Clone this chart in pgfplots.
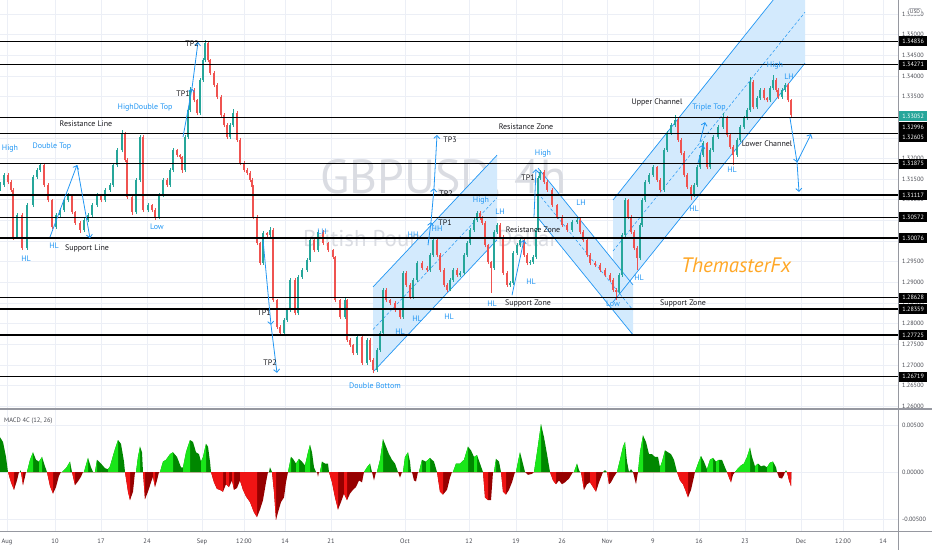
\documentclass[border=0pt]{standalone}
\usepackage{fontspec}
\setmainfont{PT Sans}
\usepackage{pgfplots}
\usepackage{pgfplotstable}
\pgfplotsset{compat=1.18}
\usetikzlibrary{arrows.meta}

\definecolor{tvup}{RGB}{38,166,154}
\definecolor{tvdn}{RGB}{239,83,80}
\definecolor{tvblue}{RGB}{33,150,243}
\definecolor{chfill}{RGB}{211,234,253}
\definecolor{gridc}{RGB}{236,239,246}
\definecolor{axc}{RGB}{150,152,160}
\definecolor{axtxt}{RGB}{70,72,80}
\definecolor{txtc}{RGB}{25,25,30}
\definecolor{wm}{RGB}{218,220,226}
\definecolor{fxor}{RGB}{255,167,38}
\definecolor{glime}{RGB}{25,230,25}
\definecolor{gdark}{RGB}{0,135,0}
\definecolor{rbright}{RGB}{240,20,20}
\definecolor{rdark}{RGB}{150,0,0}

\pgfplotstableread{
x o h l c
0 1.3128 1.3142 1.3122 1.3136
4 1.3136 1.3166 1.3131 1.3160
8 1.3160 1.3165 1.3138 1.3143
11 1.3143 1.3148 1.3119 1.3124
13 1.3124 1.3128 1.3003 1.3010
17 1.3010 1.3068 1.3005 1.3063
22 1.3063 1.3067 1.2978 1.2983
27 1.2983 1.3092 1.2979 1.3087
33 1.3087 1.3160 1.3082 1.3155
37 1.3155 1.3177 1.3150 1.3172
40 1.3172 1.3189 1.3167 1.3184
44 1.3184 1.3188 1.3131 1.3136
48 1.3136 1.3140 1.3094 1.3099
52 1.3099 1.3103 1.3029 1.3034
56 1.3034 1.3068 1.3030 1.3063
60 1.3063 1.3080 1.3058 1.3075
64 1.3075 1.3104 1.3071 1.3099
68 1.3099 1.3116 1.3094 1.3111
72 1.3111 1.3115 1.3065 1.3070
75 1.3070 1.3074 1.3039 1.3044
80 1.3044 1.3048 1.3020 1.3027
84 1.3027 1.3056 1.3023 1.3051
88 1.3051 1.3068 1.3046 1.3063
92 1.3063 1.3092 1.3058 1.3087
97 1.3087 1.3116 1.3082 1.3111
101 1.3111 1.3115 1.3094 1.3099
105 1.3099 1.3129 1.3095 1.3124
110 1.3124 1.3141 1.3119 1.3136
113 1.3136 1.3189 1.3131 1.3184
117 1.3184 1.3225 1.3179 1.3220
122 1.3220 1.3268 1.3215 1.3261
125 1.3261 1.3265 1.3191 1.3196
127 1.3196 1.3200 1.3102 1.3107
132 1.3107 1.3111 1.3063 1.3070
136 1.3070 1.3153 1.3066 1.3148
140 1.3148 1.3258 1.3143 1.3252
143 1.3252 1.3256 1.3070 1.3075
148 1.3075 1.3092 1.3070 1.3087
152 1.3087 1.3091 1.3070 1.3075
155 1.3075 1.3079 1.3052 1.3058
159 1.3058 1.3116 1.3054 1.3111
163 1.3111 1.3153 1.3106 1.3148
167 1.3148 1.3152 1.3131 1.3136
170 1.3136 1.3177 1.3132 1.3172
173 1.3172 1.3226 1.3167 1.3220
177 1.3220 1.3224 1.3203 1.3208
180 1.3208 1.3212 1.3198 1.3203
182 1.3203 1.3207 1.3166 1.3172
185 1.3172 1.3257 1.3168 1.3252
188 1.3252 1.3322 1.3248 1.3317
190 1.3317 1.3372 1.3312 1.3366
194 1.3366 1.3370 1.3336 1.3341
197 1.3341 1.3345 1.3305 1.3310
200 1.3310 1.3395 1.3306 1.3390
203 1.3390 1.3443 1.3386 1.3438
205 1.3438 1.3486 1.3434 1.3479
208 1.3479 1.3483 1.3433 1.3438
210 1.3438 1.3442 1.3402 1.3407
214 1.3407 1.3411 1.3373 1.3378
217 1.3378 1.3382 1.3344 1.3349
221 1.3349 1.3353 1.3300 1.3305
224 1.3305 1.3309 1.3276 1.3281
227 1.3281 1.3285 1.3247 1.3252
230 1.3252 1.3286 1.3248 1.3281
233 1.3281 1.3320 1.3277 1.3310
237 1.3310 1.3314 1.3240 1.3245
240 1.3245 1.3249 1.3184 1.3189
244 1.3189 1.3193 1.3167 1.3172
247 1.3172 1.3176 1.3160 1.3165
250 1.3165 1.3169 1.3143 1.3148
252 1.3148 1.3152 1.3126 1.3131
253 1.3131 1.3135 1.3053 1.3058
257 1.3058 1.3062 1.2990 1.2995
260 1.2995 1.2999 1.2942 1.2947
263 1.2947 1.3024 1.2943 1.3019
267 1.3019 1.3023 1.3010 1.3015
270 1.3015 1.3034 1.3011 1.3027
273 1.3027 1.3031 1.2852 1.2857
277 1.2857 1.2861 1.2787 1.2792
280 1.2792 1.2796 1.2772 1.2777
284 1.2777 1.2814 1.2773 1.2809
287 1.2809 1.2838 1.2805 1.2833
290 1.2833 1.2911 1.2829 1.2906
295 1.2906 1.2910 1.2821 1.2826
298 1.2826 1.2918 1.2822 1.2913
302 1.2913 1.2935 1.2909 1.2930
307 1.2930 1.2959 1.2926 1.2954
310 1.2954 1.3008 1.2950 1.3003
314 1.3003 1.3007 1.2973 1.2978
318 1.2978 1.3027 1.2974 1.3022
323 1.3022 1.3026 1.2990 1.2995
328 1.2995 1.2999 1.2973 1.2978
333 1.2978 1.2982 1.2956 1.2961
335 1.2961 1.2965 1.2852 1.2857
340 1.2857 1.2861 1.2811 1.2816
345 1.2816 1.2862 1.2812 1.2857
347 1.2857 1.2861 1.2756 1.2761
350 1.2761 1.2765 1.2743 1.2748
353 1.2748 1.2752 1.2724 1.2729
357 1.2729 1.2773 1.2725 1.2768
362 1.2768 1.2772 1.2700 1.2705
367 1.2705 1.2766 1.2701 1.2761
370 1.2761 1.2765 1.2707 1.2712
373 1.2712 1.2716 1.2680 1.2688
377 1.2688 1.2741 1.2684 1.2736
380 1.2736 1.2782 1.2732 1.2777
383 1.2777 1.2887 1.2773 1.2882
386 1.2882 1.2886 1.2852 1.2857
390 1.2857 1.2861 1.2845 1.2850
395 1.2850 1.2854 1.2828 1.2833
400 1.2833 1.2837 1.2811 1.2816
403 1.2816 1.2928 1.2812 1.2923
406 1.2923 1.2927 1.2889 1.2894
410 1.2894 1.2898 1.2860 1.2865
413 1.2865 1.2911 1.2861 1.2906
417 1.2906 1.2952 1.2902 1.2947
422 1.2947 1.2951 1.2930 1.2935
427 1.2935 1.2939 1.2925 1.2930
430 1.2930 1.2971 1.2926 1.2966
433 1.2966 1.3008 1.2962 1.3003
437 1.3003 1.3007 1.2961 1.2966
440 1.2966 1.2970 1.2925 1.2930
444 1.2930 1.2934 1.2889 1.2894
447 1.2894 1.2898 1.2877 1.2882
450 1.2882 1.2911 1.2878 1.2906
453 1.2906 1.2935 1.2902 1.2930
457 1.2930 1.2934 1.2913 1.2918
460 1.2918 1.2928 1.2914 1.2923
464 1.2923 1.2971 1.2919 1.2966
467 1.2966 1.3000 1.2962 1.2995
470 1.2995 1.3032 1.2991 1.3027
474 1.3027 1.3056 1.3023 1.3051
477 1.3051 1.3073 1.3047 1.3068
480 1.3068 1.3072 1.3051 1.3056
482 1.3056 1.3060 1.3039 1.3044
485 1.3044 1.3048 1.2985 1.2990
488 1.2990 1.2994 1.2944 1.2949
491 1.2949 1.2953 1.2874 1.2935
494 1.2935 1.3027 1.2931 1.3022
497 1.3022 1.3044 1.3018 1.3039
500 1.3039 1.3043 1.3005 1.3010
503 1.3010 1.3014 1.2918 1.2923
507 1.2923 1.2927 1.2889 1.2894
510 1.2894 1.2903 1.2890 1.2898
513 1.2898 1.2976 1.2894 1.2971
517 1.2971 1.2995 1.2967 1.2990
520 1.2990 1.3008 1.2986 1.3003
524 1.3003 1.3007 1.2961 1.2966
527 1.2966 1.2970 1.2942 1.2947
530 1.2947 1.2954 1.2943 1.2949
533 1.2949 1.2966 1.2945 1.2961
536 1.2961 1.3032 1.2957 1.3027
538 1.3027 1.3158 1.3023 1.3153
540 1.3153 1.3172 1.3149 1.3167
544 1.3167 1.3171 1.3138 1.3143
547 1.3143 1.3147 1.3119 1.3124
552 1.3124 1.3128 1.3082 1.3087
557 1.3087 1.3091 1.3053 1.3058
562 1.3058 1.3062 1.3034 1.3039
567 1.3039 1.3043 1.3022 1.3027
572 1.3027 1.3051 1.3023 1.3046
577 1.3046 1.3058 1.3042 1.3051
580 1.3051 1.3055 1.3017 1.3022
583 1.3022 1.3026 1.2998 1.3003
587 1.3003 1.3007 1.2961 1.2966
590 1.2966 1.2970 1.2942 1.2947
595 1.2947 1.2951 1.2937 1.2942
600 1.2942 1.2946 1.2925 1.2930
605 1.2930 1.2934 1.2913 1.2918
610 1.2918 1.2922 1.2901 1.2906
613 1.2906 1.2910 1.2877 1.2882
616 1.2882 1.2886 1.2857 1.2877
619 1.2877 1.2923 1.2873 1.2918
622 1.2918 1.3020 1.2914 1.3015
625 1.3015 1.3104 1.3011 1.3099
628 1.3099 1.3103 1.3053 1.3058
631 1.3058 1.3062 1.3017 1.3022
634 1.3022 1.3026 1.2978 1.2983
637 1.2983 1.2987 1.2930 1.2959
640 1.2959 1.3044 1.2955 1.3039
642 1.3039 1.3104 1.3035 1.3099
645 1.3099 1.3148 1.3095 1.3143
649 1.3143 1.3165 1.3139 1.3160
653 1.3160 1.3184 1.3156 1.3179
657 1.3179 1.3183 1.3143 1.3148
660 1.3148 1.3152 1.3119 1.3124
664 1.3124 1.3225 1.3120 1.3220
667 1.3220 1.3266 1.3216 1.3261
671 1.3261 1.3286 1.3257 1.3281
675 1.3281 1.3305 1.3277 1.3293
678 1.3293 1.3297 1.3240 1.3245
681 1.3245 1.3249 1.3208 1.3213
684 1.3213 1.3217 1.3155 1.3160
687 1.3160 1.3164 1.3126 1.3131
691 1.3131 1.3135 1.3099 1.3111
694 1.3111 1.3141 1.3107 1.3136
697 1.3136 1.3184 1.3132 1.3179
700 1.3179 1.3213 1.3175 1.3208
703 1.3208 1.3242 1.3204 1.3237
707 1.3237 1.3241 1.3174 1.3179
710 1.3179 1.3225 1.3175 1.3220
713 1.3220 1.3257 1.3216 1.3252
718 1.3252 1.3281 1.3248 1.3276
723 1.3276 1.3310 1.3272 1.3300
727 1.3300 1.3304 1.3252 1.3257
730 1.3257 1.3261 1.3223 1.3228
733 1.3228 1.3232 1.3184 1.3208
737 1.3208 1.3250 1.3204 1.3245
740 1.3245 1.3281 1.3241 1.3276
744 1.3276 1.3303 1.3272 1.3298
747 1.3298 1.3322 1.3294 1.3317
750 1.3317 1.3397 1.3313 1.3385
753 1.3385 1.3389 1.3319 1.3324
757 1.3324 1.3351 1.3320 1.3346
760 1.3346 1.3371 1.3342 1.3366
764 1.3366 1.3370 1.3341 1.3346
767 1.3346 1.3350 1.3336 1.3341
770 1.3341 1.3375 1.3337 1.3370
773 1.3370 1.3402 1.3366 1.3390
776 1.3390 1.3394 1.3361 1.3366
778 1.3366 1.3370 1.3344 1.3349
782 1.3349 1.3371 1.3345 1.3366
785 1.3366 1.3383 1.3362 1.3378
788 1.3378 1.3382 1.3336 1.3341
791 1.3341 1.3345 1.3298 1.3305
}\candles

\tikzset{
  bl/.style={font=\fontsize{8}{9}\selectfont, text=tvblue, inner sep=0pt},
  bk/.style={font=\fontsize{8}{9}\selectfont, text=txtc, inner sep=0pt},
  gl/.style={font=\fontsize{6.2}{7}\selectfont, text=axtxt, anchor=west, inner sep=0pt},
  pb/.style={font=\fontsize{6.2}{7}\selectfont, text=white, fill=black, anchor=west, inner sep=0.8pt, minimum width=28bp, minimum height=10bp},
}
\pgfplotsset{
  tvarr/.style={tvblue, line width=0.8bp, -{Straight Barb[length=3bp,width=6bp]}},
  hline/.style={color=black, line width=1.3bp},
  chline/.style={tvblue, line width=0.7bp},
  chmid/.style={tvblue, line width=0.5bp, dash pattern=on 3bp off 2bp},
  candle/.style={draw=none, mark=none, error bars/.cd, y dir=plus, y explicit, error mark=none, error bar style={draw=#1}},
}

\begin{document}
\begin{tikzpicture}
\begin{axis}[
  at={(0bp,141bp)}, anchor=south west,
  width=932bp, height=409bp, scale only axis,
  xmin=0, xmax=932, ymin=1.259346, ymax=1.358378,
  axis line style={draw=none}, tick style={draw=none},
  xtick={7,55,101,147,202,244,285,331,405,469,516,562,607,653,699,745,801,843,883},
  ytick={1.26,1.265,1.27,1.275,1.28,1.285,1.29,1.295,1.30,1.305,1.31,1.315,1.32,1.325,1.33,1.335,1.34,1.345,1.35,1.355},
  xticklabels={}, yticklabels={},
  xmajorgrids, ymajorgrids, grid style={draw=gridc, line width=0.6bp},
  every axis plot/.append style={forget plot},
]
% watermark
\node[font=\fontsize{48}{50}\selectfont, text=wm, anchor=base west, inner sep=0pt] at (axis cs:320,1.3116) {GBPUSD, 4h};
\node[font=\fontsize{23}{25}\selectfont, text=wm, anchor=base west, inner sep=0pt] at (axis cs:303,1.2988) {British Pound / U.S. Dollar};

% channels
\addplot[fill=chfill, draw=none] coordinates {(373,1.2889)(497,1.3208)(497,1.3003)(373,1.2683)} -- cycle;
\addplot[fill=chfill, draw=none] coordinates {(538,1.3177)(633,1.2894)(633,1.2773)(538,1.3056)} -- cycle;
\addplot[fill=chfill, draw=none] coordinates {(613,1.30995)(805,1.3680)(805,1.34308)(613,1.28525)} -- cycle;
\addplot[chline] coordinates {(373,1.2889)(497,1.3208)};
\addplot[chline] coordinates {(373,1.2683)(497,1.3003)};
\addplot[chmid] coordinates {(373,1.2786)(497,1.3105)};
\addplot[chline] coordinates {(538,1.3177)(633,1.2894)};
\addplot[chline] coordinates {(538,1.3056)(633,1.2773)};
\addplot[chmid] coordinates {(538,1.3116)(633,1.2833)};
\addplot[chline] coordinates {(613,1.30995)(805,1.3680)};
\addplot[chline] coordinates {(613,1.28525)(805,1.34308)};
\addplot[chmid] coordinates {(613,1.29759)(805,1.35543)};

% candles: wicks then bodies
\addplot[candle=tvup, error bar style={line width=0.5bp}, /pgfplots/restrict expr to domain={\thisrow{c}-\thisrow{o}}{0:1}]
  table[x=x, y=l, y error expr={\thisrow{h}-\thisrow{l}}] {\candles};
\addplot[candle=tvdn, error bar style={line width=0.5bp}, /pgfplots/restrict expr to domain={\thisrow{c}-\thisrow{o}}{-1:0}]
  table[x=x, y=l, y error expr={\thisrow{h}-\thisrow{l}}] {\candles};
\addplot[candle=tvup, error bar style={line width=1.3bp}, /pgfplots/restrict expr to domain={\thisrow{c}-\thisrow{o}}{0:1}]
  table[x=x, y=o, y error expr={\thisrow{c}-\thisrow{o}}] {\candles};
\addplot[candle=tvdn, error bar style={line width=1.3bp}, /pgfplots/restrict expr to domain={\thisrow{c}-\thisrow{o}}{-1:0}]
  table[x=x, y=c, y error expr={\thisrow{o}-\thisrow{c}}] {\candles};

% horizontal levels
\addplot[hline] coordinates {(0,1.34836)(898,1.34836)};
\addplot[hline] coordinates {(0,1.34271)(898,1.34271)};
\addplot[hline] coordinates {(0,1.32996)(898,1.32996)};
\addplot[hline] coordinates {(0,1.32605)(898,1.32605)};
\addplot[hline] coordinates {(0,1.31875)(898,1.31875)};
\addplot[hline] coordinates {(0,1.31117)(898,1.31117)};
\addplot[hline] coordinates {(0,1.30572)(898,1.30572)};
\addplot[hline] coordinates {(0,1.30076)(898,1.30076)};
\addplot[hline] coordinates {(0,1.28628)(898,1.28628)};
\addplot[hline] coordinates {(0,1.28359)(898,1.28359)};
\addplot[hline] coordinates {(0,1.27725)(898,1.27725)};
\addplot[hline] coordinates {(0,1.26719)(898,1.26719)};

% arrows
\addplot[tvarr] coordinates {(50,1.3010)(77,1.3184)};
\addplot[tvarr] coordinates {(77,1.3184)(90,1.3007)};
\addplot[tvarr] coordinates {(183,1.3252)(192,1.3370)};
\addplot[tvarr] coordinates {(192,1.3370)(198,1.3482)};
\addplot[tvarr] coordinates {(263,1.3003)(271,1.2797)};
\addplot[tvarr] coordinates {(271,1.2797)(277,1.2681)};
\addplot[tvarr] coordinates {(428,1.2990)(431,1.3046)};
\addplot[tvarr] coordinates {(431,1.3046)(434,1.3128)};
\addplot[tvarr] coordinates {(434,1.3128)(437,1.3257)};
\addplot[tvarr] coordinates {(534,1.3058)(536,1.3174)};
\addplot[tvarr] coordinates {(512,1.2869)(524,1.3003)};
\addplot[tvarr] coordinates {(698,1.3189)(703,1.3233)};
\addplot[tvarr] coordinates {(700,1.3240)(705,1.3288)};
\addplot[tvarr] coordinates {(790,1.3298)(797,1.3191)};
\addplot[tvarr] coordinates {(797,1.3191)(811,1.3259)};
\addplot[tvarr] coordinates {(797,1.3191)(799,1.3119)};

% labels
\node[bl] at (axis cs:10,1.3223) {High};
\node[bl] at (axis cs:52,1.3228) {Double Top};
\node[bl] at (axis cs:54,1.2988) {HL};
\node[bl] at (axis cs:26,1.2957) {HL};
\node[bl] at (axis cs:157,1.3034) {Low};
\node[bl] at (axis cs:145,1.3324) {HighDouble Top};
\node[bl] at (axis cs:322,1.3022) {LH};
\node[bl] at (axis cs:375,1.2649) {Double Bottom};
\node[bl] at (axis cs:400,1.2780) {HL};
\node[bl] at (axis cs:413,1.3015) {HH};
\node[bl] at (axis cs:437,1.3029) {HH};
\node[bl] at (axis cs:417,1.2811) {HL};
\node[bl] at (axis cs:449,1.2816) {HL};
\node[bl] at (axis cs:481,1.3099) {High};
\node[bl] at (axis cs:500,1.3070) {LH};
\node[bl] at (axis cs:492,1.2848) {HL};
\node[bl] at (axis cs:531,1.2901) {HL};
\node[bl] at (axis cs:543,1.3211) {High};
\node[bl] at (axis cs:581,1.3094) {LH};
\node[bl] at (axis cs:613,1.2848) {Low};
\node[bl] at (axis cs:639,1.2911) {HL};
\node[bl] at (axis cs:694,1.3078) {HL};
\node[bl] at (axis cs:732,1.3172) {HL};
\node[bl] at (axis cs:709,1.3324) {Triple Top};
\node[bl] at (axis cs:775,1.3424) {High};
\node[bl] at (axis cs:789,1.3399) {LH};

\node[bk] at (axis cs:86,1.3283) {Resistance Line};
\node[bk] at (axis cs:87,1.2983) {Support Line};
\node[bk] at (axis cs:183,1.3358) {TP1};
\node[bk] at (axis cs:192,1.3479) {TP2};
\node[bk] at (axis cs:264,1.2826) {TP1};
\node[bk] at (axis cs:270,1.2705) {TP2};
\node[bk] at (axis cs:445,1.3044) {TP1};
\node[bk] at (axis cs:446,1.3116) {TP2};
\node[bk] at (axis cs:450,1.3245) {TP3};
\node[bk] at (axis cs:528,1.3153) {TP1};
\node[bk] at (axis cs:526,1.3278) {Resistance Zone};
\node[bk] at (axis cs:533,1.3027) {Resistance Zone};
\node[bk] at (axis cs:528,1.2848) {Support Zone};
\node[bk] at (axis cs:683,1.2850) {Support Zone};
\node[bk] at (axis cs:657,1.3336) {Upper Channel};
\node[bk] at (axis cs:767,1.3235) {Lower Channel};
\node[font=\fontsize{21}{23}\selectfont\itshape, text=fxor, inner sep=0pt] at (axis cs:736,1.2942) {ThemasterFx};

% price scale
\addplot[fill=white, draw=none] coordinates {(898.5,1.2590)(932,1.2590)(932,1.3590)(898.5,1.3590)} -- cycle;
\node[gl] at (axis cs:902,1.355) {1.35500};
\node[gl] at (axis cs:902,1.350) {1.35000};
\node[gl] at (axis cs:902,1.345) {1.34500};
\node[gl] at (axis cs:902,1.340) {1.34000};
\node[gl] at (axis cs:902,1.335) {1.33500};
\node[gl] at (axis cs:902,1.330) {1.33000};
\node[gl] at (axis cs:902,1.325) {1.32500};
\node[gl] at (axis cs:902,1.320) {1.32000};
\node[gl] at (axis cs:902,1.315) {1.31500};
\node[gl] at (axis cs:902,1.310) {1.31000};
\node[gl] at (axis cs:902,1.305) {1.30500};
\node[gl] at (axis cs:902,1.300) {1.30000};
\node[gl] at (axis cs:902,1.295) {1.29500};
\node[gl] at (axis cs:902,1.290) {1.29000};
\node[gl] at (axis cs:902,1.285) {1.28500};
\node[gl] at (axis cs:902,1.280) {1.28000};
\node[gl] at (axis cs:902,1.275) {1.27500};
\node[gl] at (axis cs:902,1.270) {1.27000};
\node[gl] at (axis cs:902,1.265) {1.26500};
\node[gl] at (axis cs:902,1.260) {1.26000};
\node[font=\fontsize{5.5}{6}\selectfont, text=axtxt, fill=white, draw=axc, line width=0.4bp, rounded corners=1bp, inner sep=1.2pt] at (axis cs:915,1.3555) {USD};
\node[pb] at (axis cs:899,1.34836) {1.34836};
\node[pb] at (axis cs:899,1.34271) {1.34271};
\node[pb, fill=tvup] at (axis cs:899,1.33029) {1.33052};
\node[pb] at (axis cs:899,1.32761) {1.32996};
\node[pb] at (axis cs:899,1.32520) {1.32605};
\node[pb] at (axis cs:899,1.31875) {1.31875};
\node[pb] at (axis cs:899,1.31117) {1.31117};
\node[pb] at (axis cs:899,1.30572) {1.30572};
\node[pb] at (axis cs:899,1.30076) {1.30076};
\node[pb] at (axis cs:899,1.28628) {1.28628};
\node[pb] at (axis cs:899,1.28359) {1.28359};
\node[pb] at (axis cs:899,1.27725) {1.27725};
\node[pb] at (axis cs:899,1.26719) {1.26719};
\end{axis}

\begin{axis}[
  at={(0bp,19bp)}, anchor=south west,
  width=932bp, height=121bp, scale only axis,
  xmin=0, xmax=932, ymin=-6.28, ymax=6.60,
  axis line style={draw=none}, tick style={draw=none},
  xtick={7,55,101,147,202,244,285,331,405,469,516,562,607,653,699,745,801,843,883},
  xticklabels={Aug,10,17,24,Sep,12:00,14,21,Oct,12,19,26,Nov,9,16,23,Dec,12:00,14},
  ytick={-5,0,5}, yticklabels={},
  xticklabel style={font=\fontsize{6.5}{7}\selectfont, text=axtxt, yshift=-4bp},
  xmajorgrids, ymajorgrids, grid style={draw=gridc, line width=0.6bp},
  every axis plot/.append style={forget plot},
]
\node[font=\fontsize{6.5}{7}\selectfont, text=axtxt, anchor=west, inner sep=0pt] at (axis cs:4,5.43) {MACD 4C (12, 26)};
% positive histogram (dark = falling)
\addplot[fill=gdark, draw=none] coordinates {
(0,0)(0,3.7)(3,3.2)(6,1.6)(8,0)
(20,0)(20.5,0.2)(21,0)
(27,0)(30,1.3)(33,2.1)(36,1.3)(39,1.1)(42,1.6)(45,0.6)(47,0)
(62,0)(66,0.4)(70,1.1)(72,0)
(84,0)(88,1.5)(91,0.5)(93,0)
(95,0)(97,1.3)(101,0.9)(105,0.4)(108,0.3)(110,0.6)(114,2.1)(118,3.4)(121,3.0)(124,1.1)(125,0)
(136,0)(138,1.6)(140,2.7)(142,2.1)(143,0)
(160,0)(163,1.1)(166,1.3)(170,1.9)(173,2.1)(177,1.6)(181,0.5)(183,0.5)(186,2.1)(190,3.4)(193,3.2)(196,2.1)(199,1.9)(201,1.1)(203,1.6)(206,3.0)(208,2.7)(210,1.1)(211,0)
(269,0)(270,0.5)(272,0)
(288,0)(291,1.6)(293,1.4)(296,0.9)(299,1.4)(302,1.1)(305,0.7)(308,2.1)(310,2.9)(312,2.1)(314,0.5)(316,0)
(320,0)(322,1.1)(325,0.9)(328,0.9)(329,0)
(364,0)(367,0.5)(370,0.9)(372,0)
(377,0)(380,1.3)(383,3.5)(386,2.7)(389,1.9)(392,1.3)(395,0.9)(398,0)
(403,0)(405,1.6)(408,2.1)(410,1.1)(411,0)
(419,0)(422,1.3)(426,1.1)(430,1.5)(434,1.1)(437,0)
(453,0)(456,0.9)(460,0.9)(464,1.3)(468,2.7)(471,2.3)(474,1.6)(477,1.8)(480,0.9)(483,0)
(494,0)(496,1.4)(499,1.1)(501,0)
(516,0)(518,1.1)(520,2.1)(522,1.3)(525,0)
(534,0)(537,2.1)(541,5.1)(544,3.7)(547,1.9)(550,0)
(574,0)(577,0.9)(579,0.2)(580,0)
(603,0)(605,0.2)(607,0)
(617,0)(620,1.3)(623,2.7)(625,3.2)(627,1.1)(629,0)(631,0.3)(633,0)
(638,0)(640,2.1)(643,3.9)(646,3.2)(649,1.9)(652,1.9)(655,1.6)(658,1.6)(660,0.5)(662,1.1)(665,2.3)(668,2.1)(671,1.9)(674,1.3)(677,0)
(695,0)(698,0.9)(701,1.7)(704,1.1)(707,0.3)(710,1.3)(713,1.5)(716,1.1)(719,1.3)(722,1.3)(725,0.5)(727,0)
(735,0)(738,0.4)(741,0.7)(744,0.9)(747,1.6)(750,2.6)(752,1.6)(755,0.6)(758,0.9)(761,0.6)(764,0.7)(767,0.5)(770,1.0)(773,1.1)(776,0.5)(777,0)
(785,0)(786,0.2)(787,0)
} -- cycle;
% positive rising (lime)
\addplot[fill=glime, draw=none] coordinates {
(27,0)(30,1.3)(33,2.1)(33,0)
(39,0)(39,1.1)(42,1.6)(42,0)
(62,0)(66,0.4)(70,1.1)(70,0)
(84,0)(88,1.5)(88,0)
(95,0)(97,1.3)(97,0)
(108,0)(108,0.3)(110,0.6)(114,2.1)(118,3.4)(118,0)
(136,0)(138,1.6)(140,2.7)(140,0)
(160,0)(163,1.1)(166,1.3)(170,1.9)(173,2.1)(173,0)
(183,0)(183,0.5)(186,2.1)(190,3.4)(190,0)
(201,0)(201,1.1)(203,1.6)(206,3.0)(206,0)
(288,0)(291,1.6)(291,0)
(296,0)(296,0.9)(299,1.4)(299,0)
(305,0)(305,0.7)(308,2.1)(310,2.9)(310,0)
(320,0)(322,1.1)(322,0)
(364,0)(367,0.5)(370,0.9)(370,0)
(377,0)(380,1.3)(383,3.5)(383,0)
(403,0)(405,1.6)(408,2.1)(408,0)
(419,0)(422,1.3)(422,0)
(426,0)(426,1.1)(430,1.5)(430,0)
(453,0)(456,0.9)(460,0.9)(464,1.3)(468,2.7)(468,0)
(474,0)(474,1.6)(477,1.8)(477,0)
(494,0)(496,1.4)(496,0)
(516,0)(518,1.1)(520,2.1)(520,0)
(534,0)(537,2.1)(541,5.1)(541,0)
(574,0)(577,0.9)(577,0)
(617,0)(620,1.3)(623,2.7)(625,3.2)(625,0)
(638,0)(640,2.1)(643,3.9)(643,0)
(660,0)(660,0.5)(662,1.1)(665,2.3)(665,0)
(695,0)(698,0.9)(701,1.7)(701,0)
(707,0)(707,0.3)(710,1.3)(713,1.5)(713,0)
(716,0)(716,1.1)(719,1.3)(719,0)
(735,0)(738,0.4)(741,0.7)(744,0.9)(747,1.6)(750,2.6)(750,0)
(755,0)(755,0.6)(758,0.9)(758,0)
(767,0)(767,0.5)(770,1.0)(773,1.1)(773,0)
} -- cycle;
% negative histogram (dark = rising)
\addplot[fill=rdark, draw=none] coordinates {
(8,0)(11,-1.1)(14,-1.9)(17,-0.9)(19,0)
(21,0)(23,-1.4)(25,-0.5)(26,0)
(47,0)(50,-1.5)(53,-2.3)(56,-1.6)(59,-0.4)(61,0)
(72,0)(75,-1.4)(78,-1.0)(81,-0.5)(83,0)
(125,0)(128,-2.1)(130,-3.0)(133,-2.1)(135,0)
(143,0)(145,-2.9)(148,-2.1)(151,-1.1)(153,-0.5)(155,-1.6)(157,-0.9)(159,0)
(211,0)(214,-1.1)(217,-1.8)(220,-1.9)(223,-2.1)(226,-1.3)(229,-1.6)(232,-0.9)(234,-1.9)(237,-1.7)(240,-0.9)(243,-1.9)(246,-2.6)(250,-3.2)(254,-4.3)(257,-4.8)(260,-4.0)(263,-3.0)(266,-1.1)(268,0)
(272,0)(274,-2.1)(276,-5.1)(278,-4.3)(281,-3.2)(284,-2.7)(286,-1.1)(288,0)
(317,0)(318,-0.5)(319,0)
(329,0)(332,-1.1)(335,-2.7)(338,-4.0)(341,-3.2)(344,-2.3)(347,-3.0)(350,-2.3)(353,-1.9)(356,-1.6)(359,-0.9)(362,-1.1)(364,0)
(372,0)(374,-0.9)(376,0)
(398,0)(400,-0.6)(402,0)
(412,0)(414,-0.9)(416,-1.0)(418,0)
(437,0)(440,-2.1)(443,-2.4)(447,-1.9)(450,-0.6)(452,0)
(483,0)(485,-2.7)(488,-3.0)(491,-3.0)(493,0)
(501,0)(503,-2.1)(506,-2.4)(509,-1.9)(512,-1.1)(515,0)
(525,0)(528,-0.3)(532,-0.2)(534,0)
(550,0)(553,-0.9)(556,-1.3)(559,-0.9)(562,-1.3)(565,-1.1)(569,-0.7)(573,0)
(581,0)(584,-1.9)(587,-1.3)(590,-1.1)(593,-1.6)(596,-2.1)(599,-1.1)(603,0)
(607,0)(609,-1.3)(611,-1.1)(614,-0.5)(617,0)
(633,0)(635,-0.9)(636,-1.3)(638,0)
(677,0)(680,-0.9)(683,-1.3)(686,-2.1)(688,-2.7)(691,-1.9)(694,-0.5)(695,0)
(727,0)(729,-0.6)(731,-1.1)(733,-0.3)(735,0)
(777,0)(779,-0.6)(782,-0.7)(784,-0.3)(785,0)
(787,0)(789,-0.9)(791,-1.5)(791.5,0)
} -- cycle;
% negative falling (bright red)
\addplot[fill=rbright, draw=none] coordinates {
(8,0)(11,-1.1)(14,-1.9)(14,0)
(21,0)(23,-1.4)(23,0)
(47,0)(50,-1.5)(53,-2.3)(53,0)
(72,0)(75,-1.4)(75,0)
(125,0)(128,-2.1)(130,-3.0)(130,0)
(143,0)(145,-2.9)(145,0)
(153,0)(153,-0.5)(155,-1.6)(155,0)
(211,0)(214,-1.1)(217,-1.8)(220,-1.9)(223,-2.1)(223,0)
(226,0)(226,-1.3)(229,-1.6)(229,0)
(232,0)(232,-0.9)(234,-1.9)(234,0)
(240,0)(240,-0.9)(243,-1.9)(246,-2.6)(250,-3.2)(254,-4.3)(257,-4.8)(257,0)
(272,0)(274,-2.1)(276,-5.1)(276,0)
(329,0)(332,-1.1)(335,-2.7)(338,-4.0)(338,0)
(344,0)(344,-2.3)(347,-3.0)(347,0)
(437,0)(440,-2.1)(443,-2.4)(443,0)
(483,0)(485,-2.7)(488,-3.0)(488,0)
(501,0)(503,-2.1)(506,-2.4)(506,0)
(550,0)(553,-0.9)(556,-1.3)(556,0)
(581,0)(584,-1.9)(584,0)
(590,0)(590,-1.1)(593,-1.6)(596,-2.1)(596,0)
(607,0)(609,-1.3)(609,0)
(677,0)(680,-0.9)(683,-1.3)(686,-2.1)(688,-2.7)(688,0)
(727,0)(729,-0.6)(731,-1.1)(731,0)
(787,0)(789,-0.9)(791,-1.5)(791,0)
} -- cycle;
\addplot[fill=white, draw=none] coordinates {(898.5,-6.3)(932,-6.3)(932,6.7)(898.5,6.7)} -- cycle;
\node[gl] at (axis cs:902,5) {0.00500};
\node[gl] at (axis cs:902,0) {0.00000};
\node[gl] at (axis cs:902,-5) {-0.00500};
\end{axis}
% panel frames
\draw[axc, line width=1.2bp] (0bp,141bp) -- (932bp,141bp);
\draw[axc, line width=0.8bp] (0bp,19bp) -- (932bp,19bp);
\draw[axc, line width=0.8bp] (898bp,0bp) -- (898bp,550bp);
\pgfresetboundingbox
\path[use as bounding box] (0bp,0bp) rectangle (932bp,550bp);
\end{tikzpicture}
\end{document}
